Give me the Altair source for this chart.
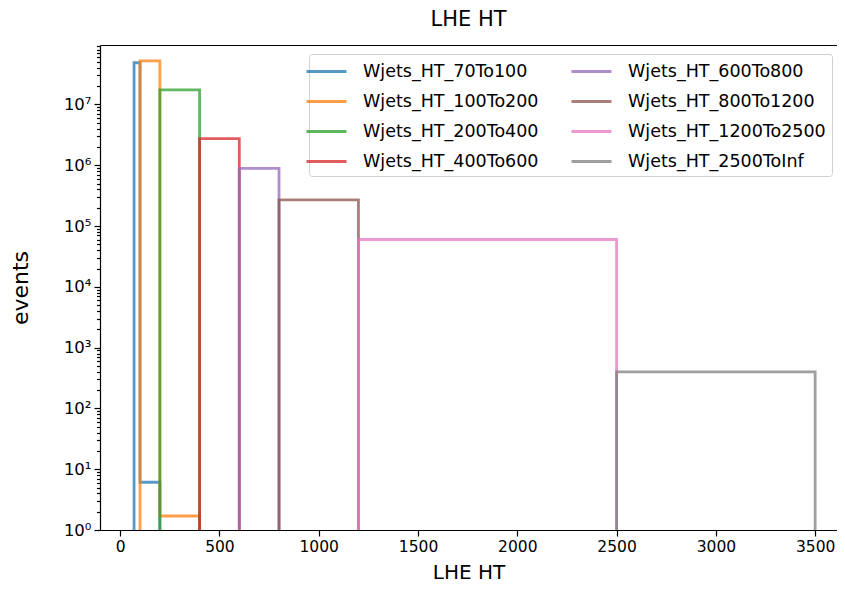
import altair as alt
import pandas as pd

# ---- data ----
bin_edges = [70, 100, 200, 400, 600, 800, 1200, 2500, 3500]
series_names = [
    "Wjets_HT_70To100", "Wjets_HT_100To200", "Wjets_HT_200To400", "Wjets_HT_400To600",
    "Wjets_HT_600To800", "Wjets_HT_800To1200", "Wjets_HT_1200To2500", "Wjets_HT_2500ToInf",
]
counts_70To100 = [4.85e7, 6.1, 0, 0, 0, 0, 0, 0]
counts_100To200 = [0, 5.2e7, 1.7, 0, 0, 0, 0, 0]
counts_200To400 = [0, 0, 1.73e7, 0, 0, 0, 0, 0]
counts_400To600 = [0, 0, 0, 2.73e6, 0, 0, 0, 0]
counts_600To800 = [0, 0, 0, 0, 8.9e5, 0, 0, 0]
counts_800To1200 = [0, 0, 0, 0, 0, 2.7e5, 0, 0]
counts_1200To2500 = [0, 0, 0, 0, 0, 0, 6.0e4, 0]
counts_2500ToInf = [0, 0, 0, 0, 0, 0, 0, 400]
all_counts = [counts_70To100, counts_100To200, counts_200To400, counts_400To600,
              counts_600To800, counts_800To1200, counts_1200To2500, counts_2500ToInf]
colors = ["#1f77b4", "#ff7f0e", "#2ca02c", "#d62728", "#9467bd", "#8c564b", "#e377c2", "#7f7f7f"]
x_ticks = [0, 500, 1000, 1500, 2000, 2500, 3000, 3500]
FLOOR = 1.0

FONT = "DejaVu Sans"

# step-histogram outline vertices built from edges + counts
rows = []
for name, c in zip(series_names, all_counts):
    nz = [i for i, v in enumerate(c) if v > 0]
    i0, i1 = nz[0], nz[-1]
    pts = [(bin_edges[i0], FLOOR)]
    for i in range(i0, i1 + 1):
        pts.append((bin_edges[i], c[i]))
        pts.append((bin_edges[i + 1], c[i]))
    pts.append((bin_edges[i1 + 1], FLOOR))
    for k, (x, y) in enumerate(pts):
        rows.append({"series": name, "ht": x, "events": y, "k": k})
df = pd.DataFrame(rows)

y_ticks = []
for e in range(0, 8):
    for m in range(1, 10):
        y_ticks.append(m * 10 ** e)

major_test = "abs(log(datum.value)/LN10 - round(log(datum.value)/LN10)) < 1e-6"
sup = "'⁰¹²³⁴⁵⁶⁷⁸⁹'"
exp = "round(log(datum.value)/LN10)"

x_scale = alt.Scale(domain=[-101.5, 3610], nice=False, zero=False)
y_scale = alt.Scale(type="log", domain=[1, 9.5e7], nice=False)

x_enc = alt.X("ht:Q", scale=x_scale,
              axis=alt.Axis(values=x_ticks, title="LHE HT", grid=False, format="d",
                            tickSize=6, labelPadding=3, titlePadding=8,
                            labelFontSize=15.5, titleFontSize=20))
y_enc = alt.Y("events:Q", scale=y_scale,
              axis=alt.Axis(values=y_ticks, title="events", grid=False,
                            labelExpr=f"({major_test}) ? '10' + substring({sup}, {exp}, {exp}+1) : ''",
                            tickSize={"condition": {"test": major_test, "value": 6}, "value": 3.5},
                            labelPadding=3, titlePadding=31, labelFontSize=16.5,
                            titleFontSize=22))
color_enc = alt.Color("series:N", scale=alt.Scale(domain=series_names, range=colors),
                      legend=alt.Legend(title=None, orient="none", legendX=209, legendY=9,
                                        columns=2, direction="vertical", symbolType="M-2,0H2",
                                        symbolSize=400, symbolStrokeWidth=3, symbolOpacity=0.75,
                                        labelFontSize=17.5, labelOffset=25, labelLimit=400,
                                        columnPadding=26, rowPadding=10, padding=6,
                                        strokeColor="#d0d0d0", fillColor="white", cornerRadius=3))

series_layers = []
for name in series_names:
    series_layers.append(
        alt.Chart(df).transform_filter(alt.datum.series == name)
        .mark_line(strokeWidth=2.8, opacity=0.75, clip=True, strokeJoin="miter")
        .encode(x=x_enc, y=y_enc, color=color_enc, order="k:Q")
    )

top_spine = alt.Chart(df).mark_line(opacity=0).encode(
    x=alt.X("ht:Q", scale=x_scale,
            axis=alt.Axis(orient="top", labels=False, ticks=False, title=None, grid=False,
                          domain=True)),
    y=alt.Y("events:Q", scale=y_scale),
    detail="series:N",
)

chart = alt.layer(alt.layer(*series_layers), top_spine).resolve_axis(x="independent").properties(
    width=737, height=485,
    title=alt.Title("LHE HT", fontSize=21, fontWeight="normal", offset=15, font=FONT),
    autosize=alt.AutoSizeParams(type="none"),
    padding={"left": 92, "top": 37, "right": 0, "bottom": 54},
).configure(font=FONT).configure_view(
    stroke=None
).configure_axis(
    domainColor="black", tickColor="black", labelColor="black", titleColor="black",
    titleFontWeight="normal", labelFont=FONT, titleFont=FONT, domainWidth=1.2, tickWidth=1.2
).configure_legend(labelFont=FONT, labelColor="black")

chart.save("out.html", embed_options={"renderer": "svg", "actions": False})
